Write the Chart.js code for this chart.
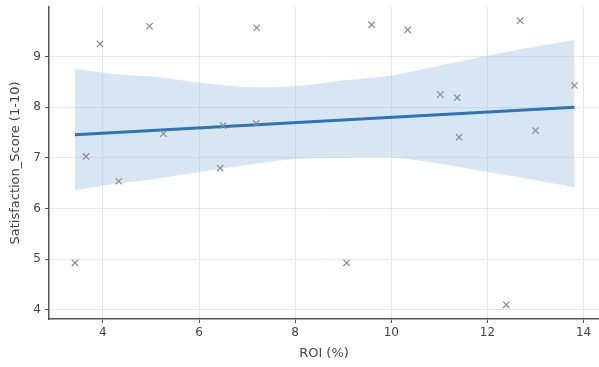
<!DOCTYPE html>
<html>
<head>
<meta charset="utf-8">
<script src="https://cdn.jsdelivr.net/npm/chart.js@4/dist/chart.umd.min.js"></script>
<style>
  body { margin: 0; background: #fff; }
  #wrap { width: 599px; height: 367px; position: relative; }
</style>
</head>
<body>
<div id="wrap"><canvas id="roiChart"></canvas></div>
<script>
// scatter points
const roi = [3.42, 3.65, 3.94, 4.33, 4.97, 5.26, 6.44, 6.50, 7.19, 7.20,
             9.07, 9.59, 10.34, 11.02, 11.37, 11.41, 12.39, 12.68, 13.00, 13.81];
const satisfaction = [4.93, 7.03, 9.25, 6.54, 9.60, 7.48, 6.80, 7.64, 7.68, 9.57,
                      4.93, 9.63, 9.53, 8.25, 8.19, 7.41, 4.10, 9.71, 7.54, 8.43];

// fitted line ends
const fitX = [3.42, 13.81];
const fitY = [7.46, 8.00];

// confidence band
const bandX = [3.42, 4.2, 5.2, 6, 7, 8, 9, 10, 11, 12, 13, 13.81];
const bandUpper = [8.76, 8.66, 8.59, 8.49, 8.40, 8.42, 8.53, 8.63, 8.82, 9.02, 9.20, 9.33];
const bandLower = [6.36, 6.48, 6.60, 6.72, 6.86, 6.98, 7.00, 7.01, 6.89, 6.72, 6.56, 6.42];

const xTicks = [4, 6, 8, 10, 12, 14];
const yTicks = [4, 5, 6, 7, 8, 9];

const pts = (xs, ys) => xs.map((x, i) => ({ x, y: ys[i] }));

const font = { family: 'DejaVu Sans', size: 12 };

new Chart(document.getElementById('roiChart'), {
  type: 'scatter',
  data: {
    datasets: [
      {
        data: pts(roi, satisfaction),
        pointStyle: 'crossRot',
        pointRadius: 4.5,
        borderColor: '#8a8a8a',
        borderWidth: 1.2,
        order: 0
      },
      {
        data: pts(fitX, fitY),
        showLine: true,
        borderColor: '#3174b0',
        borderWidth: 3,
        pointRadius: 0,
        order: 1
      },
      {
        data: pts(bandX, bandUpper),
        showLine: true,
        borderWidth: 0,
        pointRadius: 0,
        tension: 0.3,
        backgroundColor: 'rgba(168, 200, 228, 0.45)',
        fill: '+1',
        order: 2
      },
      {
        data: pts(bandX, bandLower),
        showLine: true,
        borderWidth: 0,
        pointRadius: 0,
        tension: 0.3,
        order: 3
      }
    ]
  },
  options: {
    responsive: true,
    maintainAspectRatio: false,
    animation: false,
    // no auto padding, so the plot runs to the right edge like the original
    layout: { autoPadding: false, padding: { top: 7, right: 0, left: 0, bottom: 0 } },
    plugins: { legend: { display: false }, tooltip: { enabled: false } },
    scales: {
      x: {
        type: 'linear',
        min: 2.88,
        max: 14.32,
        afterBuildTicks: s => { s.ticks = xTicks.map(v => ({ value: v })); },
        afterFit: s => { s.height = 48; s.paddingLeft = 0; s.paddingRight = 0; },
        grid: { color: '#e6e6e6', tickColor: '#555', tickLength: 4 },
        border: { color: '#555', width: 1.5 },
        ticks: { color: '#444', font, padding: 3 },
        title: { display: true, text: 'ROI (%)', color: '#444', font: { family: 'DejaVu Sans', size: 13 }, padding: { top: 2, bottom: 6 } }
      },
      y: {
        min: 3.82,
        max: 9.98,
        afterBuildTicks: s => { s.ticks = yTicks.map(v => ({ value: v })); },
        afterFit: s => { s.width = 49; s.paddingTop = 0; s.paddingBottom = 0; },
        grid: { color: '#e6e6e6', tickColor: '#555', tickLength: 4 },
        border: { color: '#555', width: 1.5 },
        ticks: { color: '#444', font, padding: 4 },
        title: { display: true, text: 'Satisfaction_Score (1-10)', color: '#444', font: { family: 'DejaVu Sans', size: 13 }, padding: { top: 8, bottom: 2 } }
      }
    }
  }
});
</script>
</body>
</html>
